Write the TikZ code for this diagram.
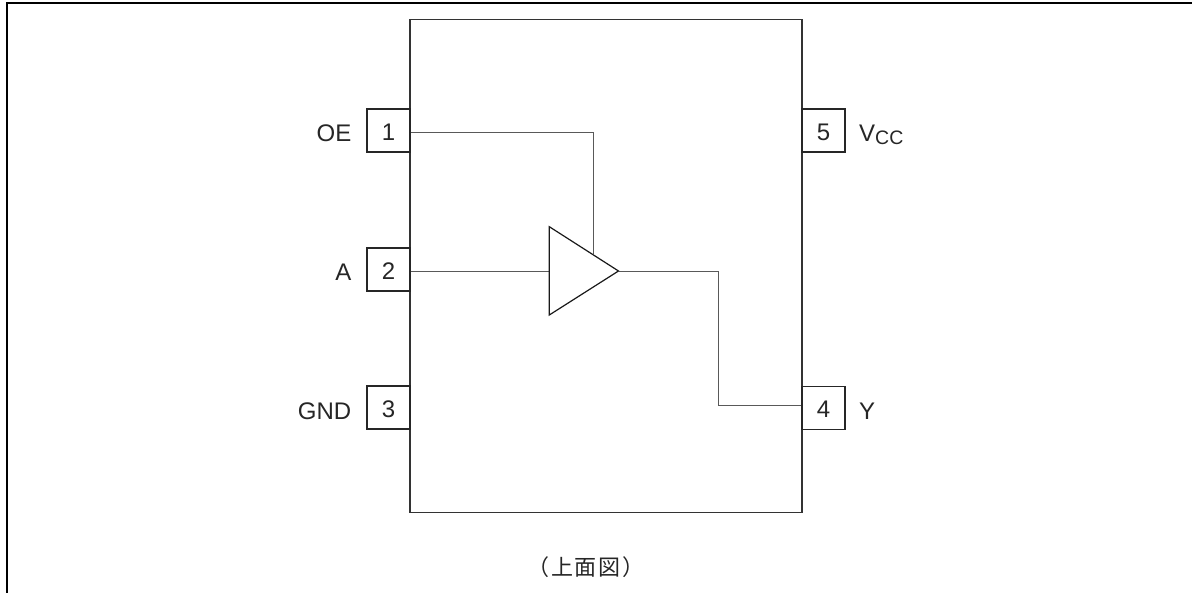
\documentclass[tikz,border=0pt]{standalone}
\usepackage{fontspec}
\setmainfont{Liberation Sans}
\newfontfamily\cjk[LetterSpace=7]{Noto Sans CJK JP}
\tikzset{
  x=1pt,y=-1pt,
  frame/.style={draw=black,line width=2.2pt},
  bodybox/.style={draw=black!80,line width=1.35pt},
  pinbox/.style={draw=black!85,line width=1.35pt,minimum width=43pt,minimum height=43pt,inner sep=0pt,text height=20pt,text depth=0pt,font=\fontsize{24}{28}\selectfont,text=black!85},
  lbl/.style={inner sep=0pt,font=\fontsize{24}{28}\selectfont,text=black!85},
  wire/.style={draw=black!65,line width=.9pt},
  buf/.style={draw=black!90,line width=1.2pt,line join=miter,fill=white}
}
\begin{document}
\begin{tikzpicture}
\useasboundingbox (0,0) rectangle (1192,593);
\fill[white] (0,0) rectangle (1192,593);
\draw[frame] (7,610) -- (7,3) -- (1200,3);
\coordinate (bodyTL) at (410,19.3);
\coordinate (bodyBR) at (802,512.5);
\draw[bodybox] (bodyTL) rectangle (bodyBR);
\node[pinbox] (p1) at (388.5,130.5) {1};
\node[pinbox] (p2) at (388.5,269.5) {2};
\node[pinbox] (p3) at (388.5,407.5) {3};
\node[pinbox] (p4) at (823.5,408) {4};
\node[pinbox] (p5) at (823.5,130.5) {5};
\node[lbl,anchor=base east] (oe) at (351.5,142) {OE};
\node[lbl,anchor=base east] (a) at (351.5,281) {A};
\node[lbl,anchor=base east] (gnd) at (351.5,420) {GND};
\node[lbl,anchor=base west] (y) at (859,420) {Y};
\node[lbl,anchor=base west] (vcc) at (859,142) {V\raisebox{-3pt}{\fontsize{19.5}{22}\selectfont CC}};
\coordinate (t1) at (549.3,226.7);
\coordinate (t2) at (549.3,315);
\coordinate (t3) at (618.5,271);
\coordinate (in) at (549.3,271);
\coordinate (oet) at (593.2,254.5);
\coordinate (oec) at (593.2,132);
\coordinate (yc1) at (718,271);
\coordinate (yc2) at (718,405.7);
\draw[wire] (p1.east |- oec) -- (oec) -- (oet);
\draw[wire] (p2.east |- in) -- (in);
\draw[wire] (t3) -- (yc1) -- (yc2) -- (p4.west |- yc2);
\draw[buf] (t1) -- (t2) -- (t3) -- cycle;
\node[inner sep=0pt,font={\cjk\fontsize{22}{26}\selectfont},text=black!85] (cap) at (586,567.5) {（上面図）};
\end{tikzpicture}
\end{document}
